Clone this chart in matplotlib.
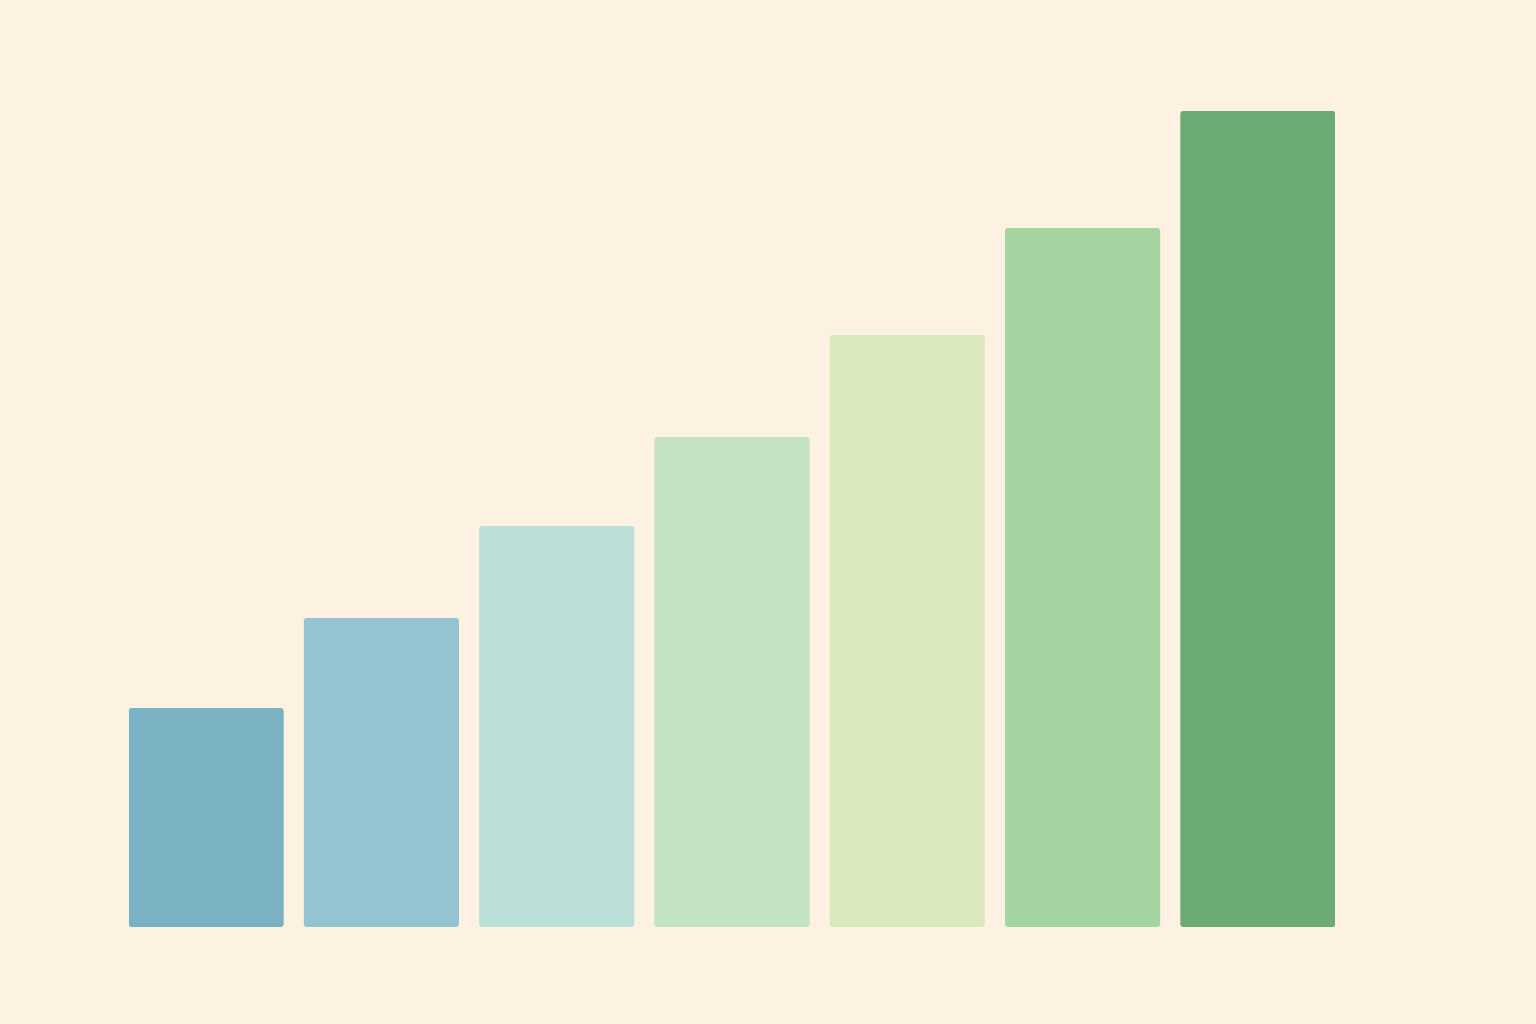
import numpy as np
import matplotlib
matplotlib.use("Agg")
import matplotlib.pyplot as plt
from matplotlib.patches import FancyBboxPatch

# bar heights (no axis labels, pixel-ish units)
categories = ["A", "B", "C", "D", "E", "F", "G"]
values = [219, 309, 401, 490, 592, 699, 816]
colors = ["#7BB2C3", "#94C4D2", "#B9DFD8", "#C3E1C3", "#D9E9BC", "#A4D5A1", "#6BAB73"]

bg = "#FDF1E2"

fig = plt.figure(figsize=(15.36, 10.24), dpi=100, facecolor=bg)
ax = fig.add_axes([129 / 1536, 97 / 1024, 1206 / 1536, 816 / 1024])
ax.set_facecolor(bg)

x = np.arange(len(categories))
bars = ax.bar(x, values, width=0.885, color=colors, edgecolor="none")

ax.set_xlim(-0.44, len(categories) - 1 + 0.44)
ax.set_ylim(0, max(values))
ax.axis("off")

# swap plain rectangles for slightly rounded ones
px_per_x = ax.get_window_extent().width / (ax.get_xlim()[1] - ax.get_xlim()[0])
px_per_y = ax.get_window_extent().height / (ax.get_ylim()[1] - ax.get_ylim()[0])
r = 3.0 / px_per_x
for b in bars:
    b.set_visible(False)
    p = FancyBboxPatch((b.get_x(), b.get_y()), b.get_width(), b.get_height(),
                       boxstyle="round,pad=0,rounding_size=%f" % r,
                       mutation_aspect=px_per_x / px_per_y,
                       facecolor=b.get_facecolor(), edgecolor="none")
    ax.add_patch(p)

fig.savefig("out.png", dpi=100, facecolor=bg)
